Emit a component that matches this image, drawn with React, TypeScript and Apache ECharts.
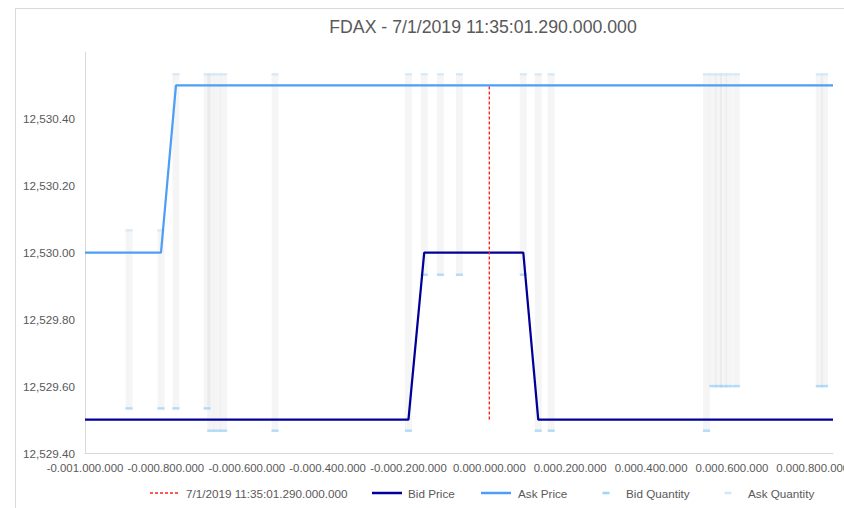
import React, { useEffect, useRef } from "react";
import * as echarts from "echarts";

// time offsets in microseconds relative to 7/1/2019 11:35:01.290
const times = [-1000, -891, -812, -775, -698, -689, -673, -657, -530, -200, -161, -121, -74, 84, 121, 153, 537, 553, 567, 579, 593, 611, 816, 829, 850];
const bidPrice = [12529.5, 12529.5, 12529.5, 12529.5, 12529.5, 12529.5, 12529.5, 12529.5, 12529.5, 12529.5, 12530.0, 12530.0, 12530.0, 12530.0, 12529.5, 12529.5, 12529.5, 12529.5, 12529.5, 12529.5, 12529.5, 12529.5, 12529.5, 12529.5, 12529.5];
const askPrice = [12530.0, 12530.0, 12530.0, 12530.5, 12530.5, 12530.5, 12530.5, 12530.5, 12530.5, 12530.5, 12530.5, 12530.5, 12530.5, 12530.5, 12530.5, 12530.5, 12530.5, 12530.5, 12530.5, 12530.5, 12530.5, 12530.5, 12530.5, 12530.5, 12530.5];
const bidQty = [null, 2, 2, 2, 2, 1, 1, 1, 1, 1, 8, 8, 8, 8, 1, 1, 1, 3, 3, 3, 3, 3, 3, 3, null];
const askQty = [null, 10, 10, 17, 17, 17, 17, 17, 17, 17, 17, 17, 17, 17, 17, 17, 17, 17, 17, 17, 17, 17, 17, 17, null];
const markerTime = [0, 0];
const markerPrice = [12529.5, 12530.5];

const TITLE = "FDAX - 7/1/2019 11:35:01.290.000.000";
const MARK_NAME = "7/1/2019 11:35:01.290.000.000";
const legendNames = [MARK_NAME, "Bid Price", "Ask Price", "Bid Quantity", "Ask Quantity"];

const FONT = "'Liberation Sans', Arial, sans-serif";
const TXT = "#595959";
const RED = "#ff2020";
const BID = "#000099";
const ASK = "#4d9ef5";
const BIDQ = "#a3d3f6";
const ASKQ = "#cfe5f8";

function fmtTime(v: number): string {
  const r = Math.round(v);
  const sign = r < 0 ? "-" : "";
  const ns = String(Math.abs(r) * 1000).padStart(9, "0");
  return sign + "0." + ns.slice(0, 3) + "." + ns.slice(3, 6) + "." + ns.slice(6, 9);
}
function fmtPrice(v: number): string {
  return v.toLocaleString("en-US", { minimumFractionDigits: 2, maximumFractionDigits: 2 });
}

export default function App() {
  const ref = useRef<HTMLDivElement>(null);
  useEffect(() => {
    if (!ref.current) return;
    const chart = echarts.init(ref.current, null, { renderer: "svg" });
    const bidLine = times.map((t, i) => [t, bidPrice[i]]);
    const askLine = times.map((t, i) => [t, askPrice[i]]);
    const bars: number[][] = [];
    const bq: number[][] = [];
    const aq: number[][] = [];
    times.forEach((t, i) => {
      if (bidQty[i] != null && askQty[i] != null) {
        bars.push([t, bidQty[i] as number, askQty[i] as number]);
        bq.push([t, bidQty[i] as number]);
        aq.push([t, askQty[i] as number]);
      }
    });
    const legendY = 493;
    const slots = [
      { icon: "dash", x: 150, tx: 186 },
      { icon: "bid", x: 372, tx: 408 },
      { icon: "ask", x: 481, tx: 518 },
      { icon: "bq", x: 591, tx: 626 },
      { icon: "aq", x: 713, tx: 748 },
    ];
    const legendEls: any[] = [];
    slots.forEach((s, i) => {
      if (s.icon === "dash") {
        legendEls.push({ type: "line", shape: { x1: s.x, y1: legendY, x2: s.x + 30, y2: legendY }, style: { stroke: RED, lineWidth: 1.4, lineDash: [3, 2] } });
      } else if (s.icon === "bid" || s.icon === "ask") {
        legendEls.push({ type: "line", shape: { x1: s.x, y1: legendY, x2: s.x + 30, y2: legendY }, style: { stroke: s.icon === "bid" ? BID : ASK, lineWidth: 2.5 } });
      } else {
        legendEls.push({ type: "rect", shape: { x: s.x + 11.5, y: legendY - 1.25, width: 7, height: 2.5 }, style: { fill: s.icon === "bq" ? BIDQ : ASKQ } });
      }
      legendEls.push({ type: "text", x: s.tx, y: legendY, style: { text: legendNames[i], fill: TXT, font: `11.7px ${FONT}`, textVerticalAlign: "middle", verticalAlign: "middle" } });
    });

    chart.setOption({
      animation: false,
      backgroundColor: "#ffffff",
      textStyle: { fontFamily: FONT },
      grid: { left: 85, width: 748, top: 52, height: 401, containLabel: false, outerBoundsMode: "none" },
      graphic: [
        { type: "rect", shape: { x: 15.5, y: 8.5, width: 900, height: 600 }, style: { fill: "none", stroke: "#d9d9d9", lineWidth: 1 }, silent: true, z: -10 },
        { type: "text", x: 483, y: 27, style: { text: TITLE, fill: TXT, font: `17.7px ${FONT}`, align: "center", verticalAlign: "middle", textAlign: "center", textVerticalAlign: "middle" } },
        ...legendEls,
      ],
      xAxis: {
        type: "value",
        min: -1000,
        max: 850,
        interval: 200,
        axisLine: { show: true, onZero: false, lineStyle: { color: "#d9d9d9", width: 1 } },
        axisTick: { show: false },
        splitLine: { show: false },
        axisLabel: { color: TXT, fontSize: 11.4, margin: 9, showMaxLabel: false, hideOverlap: false, formatter: (v: number) => fmtTime(v) },
      },
      yAxis: [
        {
          type: "value",
          min: 12529.4,
          max: 12530.6,
          interval: 0.2,
          position: "left",
          axisLine: { show: true, onZero: false, lineStyle: { color: "#d9d9d9", width: 1 } },
          axisTick: { show: false },
          splitLine: { show: false },
          axisLabel: { color: TXT, fontSize: 11.7, margin: 10, showMaxLabel: false, formatter: (v: number) => fmtPrice(v) },
        },
        { type: "value", min: 0, max: 18, show: false, position: "right", axisLine: { onZero: false }, splitLine: { show: false } },
      ],
      series: [
        {
          type: "custom",
          name: "HighLow",
          yAxisIndex: 1,
          z: 1,
          data: bars,
          encode: { x: 0, y: [1, 2] },
          renderItem: (params: any, api: any) => {
            const p1 = api.coord([api.value(0), api.value(1)]);
            const p2 = api.coord([api.value(0), api.value(2)]);
            return {
              type: "rect",
              shape: { x: p1[0] - 3.5, y: Math.min(p1[1], p2[1]), width: 7, height: Math.abs(p1[1] - p2[1]) },
              style: { fill: "rgba(0,0,0,0.04)" },
            };
          },
        },
        {
          type: "scatter",
          name: "Bid Quantity",
          yAxisIndex: 1,
          z: 3,
          symbol: "rect",
          symbolSize: [7, 2.5],
          itemStyle: { color: BIDQ },
          data: bq,
        },
        {
          type: "scatter",
          name: "Ask Quantity",
          yAxisIndex: 1,
          z: 3,
          symbol: "rect",
          symbolSize: [7, 2.5],
          itemStyle: { color: ASKQ },
          data: aq,
        },
        {
          type: "line",
          name: "Bid Price",
          z: 4,
          symbol: "none",
          lineStyle: { color: BID, width: 2.25 },
          data: bidLine,
        },
        {
          type: "line",
          name: "Ask Price",
          z: 4,
          symbol: "none",
          lineStyle: { color: ASK, width: 2.25 },
          data: askLine,
        },
        {
          type: "line",
          name: MARK_NAME,
          z: 5,
          symbol: "none",
          lineStyle: { color: RED, width: 1.4, type: [3, 2] },
          data: markerTime.map((t, i) => [t, markerPrice[i]]),
        },
      ],
    });
    return () => chart.dispose();
  }, []);
  return <div ref={ref} style={{ position: "fixed", left: 0, top: 0, width: 844, height: 508 }} />;
}
